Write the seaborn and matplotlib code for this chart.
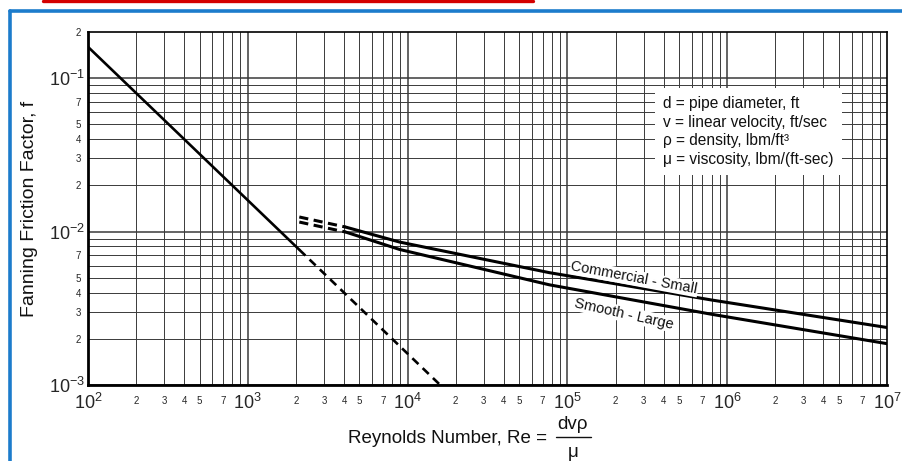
import numpy as np
import pandas as pd
import matplotlib
matplotlib.use("Agg")
import matplotlib.pyplot as plt
from matplotlib.lines import Line2D
from matplotlib.ticker import FixedLocator, FixedFormatter
import seaborn as sns

# ---- data ----
lam_solid_re = [100, 2100]
lam_solid_f = [0.16, 0.00762]
lam_dash_re = [2100, 16000]
lam_dash_f = [0.00762, 0.001]

turb_dash_re = [2100, 4100]
comm_dash_f = [0.01245, 0.0107]
smooth_dash_f = [0.01154, 0.00993]

turb_re = [4100, 8900, 77000, 800000, 10000000]
comm_f = [0.0107, 0.00855, 0.0054, 0.00358, 0.00237]
smooth_f = [0.00993, 0.00765, 0.0045, 0.00289, 0.00186]

x_major = [1e2, 1e3, 1e4, 1e5, 1e6, 1e7]
x_major_labels = ["$10^{2}$", "$10^{3}$", "$10^{4}$", "$10^{5}$", "$10^{6}$", "$10^{7}$"]
y_major = [1e-3, 1e-2, 1e-1]
y_major_labels = ["$10^{-3}$", "$10^{-2}$", "$10^{-1}$"]
minor_digits = [2, 3, 4, 5, 6, 7, 8, 9]
labeled_digits = [2, 3, 4, 5, 7]

legend_lines = ["d = pipe diameter, ft",
                "v = linear velocity, ft/sec",
                "\u03c1 = density, lbm/ft\u00b3",
                "\u03bc = viscosity, lbm/(ft-sec)"]

sns.set_theme(style="white")
plt.rcParams['font.family'] = ['Liberation Sans', 'DejaVu Sans']
plt.rcParams['mathtext.fontset'] = 'custom'
plt.rcParams['mathtext.rm'] = 'Liberation Sans'
plt.rcParams['mathtext.it'] = 'Liberation Sans:italic'

W, H = 903, 461
fig = plt.figure(figsize=(W / 100, H / 100), dpi=100)
fig.patch.set_facecolor("white")
L, R, T, B = 88, 887, 32, 385
ax = fig.add_axes([L / W, 1 - B / H, (R - L) / W, (B - T) / H])
ax.set_xscale("log")
ax.set_yscale("log")
ax.set_xlim(1e2, 1e7)
ax.set_ylim(1e-3, 2e-1)

# grid
grid_c = "#3a3a3a"
for d in range(2, 7):
    base = 10.0 ** d
    ax.axvline(base, color=grid_c, lw=1.1, zorder=1)
    for m in minor_digits:
        ax.axvline(base * m, color=grid_c, lw=0.7, zorder=1)
for d in range(-3, 0):
    base = 10.0 ** d
    ax.axhline(base, color=grid_c, lw=1.1, zorder=1)
    for m in minor_digits:
        v = base * m
        if v < 2e-1:
            ax.axhline(v, color=grid_c, lw=0.7, zorder=1)

# data lines
lw_lam = 1.9
lw_t = 2.2
df_ls = pd.DataFrame({"Re": lam_solid_re, "f": lam_solid_f})
sns.lineplot(data=df_ls, x="Re", y="f", ax=ax, color="black", lw=lw_lam, zorder=3)
df_ld = pd.DataFrame({"Re": lam_dash_re, "f": lam_dash_f})
sns.lineplot(data=df_ld, x="Re", y="f", ax=ax, color="black", lw=lw_lam,
             linestyle=(0, (3.2, 2.2)), zorder=3)
for yv in (comm_dash_f, smooth_dash_f):
    dfd = pd.DataFrame({"Re": turb_dash_re, "f": yv})
    sns.lineplot(data=dfd, x="Re", y="f", ax=ax, color="black", lw=lw_t,
                 linestyle=(0, (3.0, 1.8)), zorder=3)
for yv in (comm_f, smooth_f):
    dft = pd.DataFrame({"Re": turb_re, "f": yv})
    sns.lineplot(data=dft, x="Re", y="f", ax=ax, color="black", lw=lw_t, zorder=3)
ax.set_xlabel("")
ax.set_ylabel("")

# ticks
ax.xaxis.set_major_locator(FixedLocator(x_major))
ax.xaxis.set_major_formatter(FixedFormatter(x_major_labels))
xm, xml = [], []
for d in range(2, 7):
    for m in labeled_digits:
        xm.append(m * 10.0 ** d)
        xml.append(str(m))
ax.xaxis.set_minor_locator(FixedLocator(xm))
ax.xaxis.set_minor_formatter(FixedFormatter(xml))

ax.yaxis.set_major_locator(FixedLocator(y_major))
ax.yaxis.set_major_formatter(FixedFormatter(y_major_labels))
ym, yml = [], []
for d in range(-3, 0):
    for m in labeled_digits:
        v = m * 10.0 ** d
        if v <= 2e-1 + 1e-12:
            ym.append(v)
            yml.append(str(m))
ax.yaxis.set_minor_locator(FixedLocator(ym))
ax.yaxis.set_minor_formatter(FixedFormatter(yml))

ax.tick_params(which="both", length=0)
ax.tick_params(axis="x", which="major", labelsize=13, pad=6)
ax.tick_params(axis="x", which="minor", labelsize=7, pad=8)
ax.tick_params(axis="y", which="major", labelsize=13, pad=2)
ax.tick_params(axis="y", which="minor", labelsize=7, pad=5)

for s in ax.spines.values():
    s.set_color("black")
    s.set_linewidth(1.2)
ax.spines["left"].set_linewidth(2.0)
ax.spines["bottom"].set_linewidth(2.0)

# legend text box
ax.text(0.720, 0.818, "\n".join(legend_lines), transform=ax.transAxes,
        fontsize=11.2, va="top", ha="left", linespacing=1.3, color="#111",
        bbox=dict(facecolor="white", edgecolor="none", pad=6), zorder=5)

# curve labels
ax.text(2.62e5, 0.00498, "Commercial - Small", rotation=-10.5, fontsize=10.5,
        ha="center", va="center", color="#111",
        bbox=dict(facecolor="white", edgecolor="none", pad=0.5), zorder=5)
ax.text(2.27e5, 0.0029, "Smooth - Large", rotation=-12.5, fontsize=10.5,
        ha="center", va="center", color="#111",
        bbox=dict(facecolor="white", edgecolor="none", pad=0.5), zorder=5)

# axis labels
fig.text(30 / W, 1 - 209 / H, "Fanning Friction Factor, f", rotation=90,
         fontsize=14, ha="center", va="center", color="#111")
fig.text(450 / W, 1 - 438 / H, "Reynolds Number, Re = ", fontsize=13.5,
         ha="center", va="center", color="#111")
fig.text(573 / W, 1 - 424 / H, "dv\u03c1", fontsize=13.5, ha="center",
         va="center", color="#111")
fig.text(573 / W, 1 - 452 / H, "\u03bc", fontsize=13.5, ha="center",
         va="center", color="#111")
fig.add_artist(Line2D([556 / W, 591 / W], [1 - 437 / H, 1 - 437 / H],
                      transform=fig.transFigure, color="#111", lw=1.0))

# frame decorations
fig.add_artist(Line2D([10 / W, 10 / W], [1 - 11 / H, 0], transform=fig.transFigure,
                      color="#1c7ccc", lw=2.6))
fig.add_artist(Line2D([10 / W, 1], [1 - 11 / H, 1 - 11 / H], transform=fig.transFigure,
                      color="#1c7ccc", lw=2.6))
fig.add_artist(Line2D([43 / W, 533 / W], [1 - 1 / H, 1 - 1 / H], transform=fig.transFigure,
                      color="#d40000", lw=2.4))

fig.savefig("out.png", dpi=100)
